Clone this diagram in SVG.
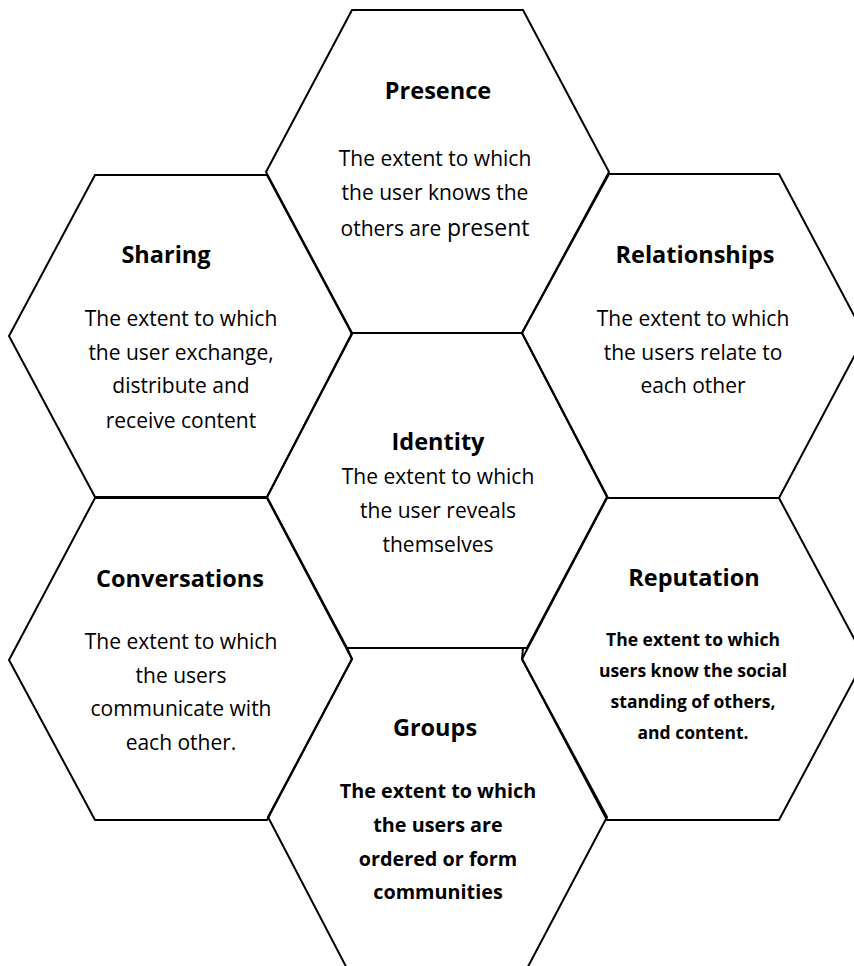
<svg xmlns="http://www.w3.org/2000/svg" width="854" height="966" viewBox="0 0 854 966">
<style>
.hex{fill:none;stroke:#000;stroke-width:2;stroke-linejoin:miter}
.t{font-family:"Open Sans","Noto Sans",sans-serif;font-weight:bold;font-size:23.5px;fill:#000;text-anchor:middle}
.b{font-family:"Open Sans","Noto Sans",sans-serif;font-size:21px;fill:#000;text-anchor:middle}
.bb{font-family:"Open Sans","Noto Sans",sans-serif;font-weight:bold;fill:#000;text-anchor:middle}
</style>
<rect width="854" height="966" fill="#fff"/>
<g id="presence">
<polygon class="hex" points="352,10 523,10 609,172 522,333 352,333 266,172"/>
<text class="t" x="438" y="99">Presence</text>
<text class="b" x="435" y="166">The extent to which</text>
<text class="b" x="435" y="200">the user knows the</text>
<text class="b" x="435" y="236">others are <tspan font-size="23">present</tspan></text>
</g>
<g id="sharing">
<polygon class="hex" points="95,175 267,175 352,334 267,497 95,497 9,336"/>
<text class="t" x="166" y="263">Sharing</text>
<text class="b" x="181" y="326">The extent to which</text>
<text class="b" x="181" y="360">the user exchange,</text>
<text class="b" x="181" y="393">distribute and</text>
<text class="b" x="181" y="428">receive content</text>
</g>
<g id="relationships">
<polygon class="hex" points="609,174 779,174 865,336 779,498 608,498 522,333"/>
<text class="t" x="695" y="263">Relationships</text>
<text class="b" x="693" y="326">The extent to which</text>
<text class="b" x="693" y="360">the users relate to</text>
<text class="b" x="693" y="393">each other</text>
</g>
<g id="identity">
<polygon class="hex" points="352,333 522,333 607,497 527,648 347,648 267,497"/>
<text class="t" x="438" y="450">Identity</text>
<text class="b" x="438" y="484">The extent to which</text>
<text class="b" x="438" y="518">the user reveals</text>
<text class="b" x="438" y="552">themselves</text>
</g>
<g id="conversations">
<polygon class="hex" points="95,498 267,498 352,659 267,820 95,820 9,660"/>
<text class="t" x="180" y="587">Conversations</text>
<text class="b" x="181" y="649">The extent to which</text>
<text class="b" x="181" y="683">the users</text>
<text class="b" x="181" y="716">communicate with</text>
<text class="b" x="181" y="750">each other.</text>
</g>
<g id="reputation">
<polygon class="hex" points="607,498 779,498 865,659 779,820 607,820 522,659"/>
<text class="t" x="694" y="586">Reputation</text>
<text class="bb" font-size="17.5" x="693" y="646">The extent to which</text>
<text class="bb" font-size="17.5" x="693" y="677">users know the social</text>
<text class="bb" font-size="17.5" x="693" y="708">standing of others,</text>
<text class="bb" font-size="17.5" x="693" y="739">and content.</text>
</g>
<g id="groups">
<polygon class="hex" points="347,648 523,648 522,659 607,817 522,978 352,978 268,817 352,659"/>
<text class="t" x="435" y="736">Groups</text>
<text class="bb" font-size="19.8" x="438" y="798">The extent to which</text>
<text class="bb" font-size="19.8" x="438" y="832">the users are</text>
<text class="bb" font-size="19.8" x="438" y="866">ordered or form</text>
<text class="bb" font-size="19.8" x="438" y="899">communities</text>
</g>
<g id="connectors"/>
</svg>
